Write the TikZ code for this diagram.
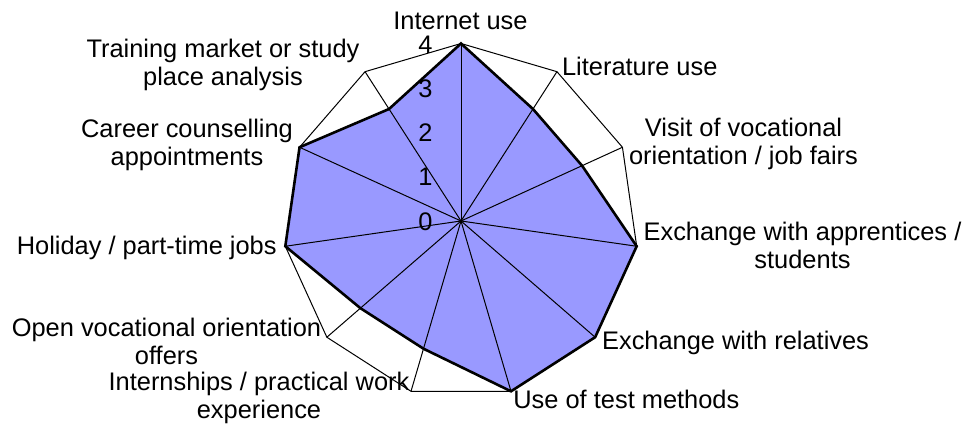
\documentclass[tikz,border=0pt]{standalone}
\usepackage{fontspec}
\setmainfont{Liberation Sans}
\definecolor{radarblue}{RGB}{153,153,255}
\tikzstyle{lbl} = [align=center, inner sep=0pt, font=\fontsize{12.75}{14.2}\selectfont]
\tikzstyle{scalelbl} = [anchor=east, inner sep=0pt, font=\fontsize{12.75}{14.2}\selectfont]
\tikzstyle{gridline} = [draw=black, line width=0.5bp]
\tikzstyle{series} = [draw=black, line width=1.3bp, line join=miter, fill=radarblue]

\begin{document}
\begin{tikzpicture}[x=0.5bp, y=-0.5bp]
\useasboundingbox (0,0) rectangle (971,430);

%Points
\begin{scope}[shift={(461,221)}]
\coordinate (c) at (0,0);
\foreach \v [count=\i from 0] in {4,3,3,4,4,4,3,3,4,4,3} {
  \coordinate (o\i) at ({-90+\i*360/11}:177.5);
  \coordinate (d\i) at ({-90+\i*360/11}:{177.5*\v/4});
}
\end{scope}

%Series
\fill [radarblue] (d0) \foreach \i in {1,...,10} {-- (d\i)} -- cycle;
%Grid
\foreach \i in {0,...,10} \draw [gridline] (c) -- (o\i);
\draw [gridline] (o0) \foreach \i in {1,...,10} {-- (o\i)} -- cycle;
\draw [series, fill=none] (d0) \foreach \i in {1,...,10} {-- (d\i)} -- cycle;

%Scale
\foreach \v in {0,...,4} \node (s\v) [scalelbl] at (433,{221.5-44.3*\v}) {\v};

%Labels
\node (internet) [lbl] at (460.5,20.6) {Internet use};
\node (literature) [lbl, anchor=west] at (561.7,66) {Literature use};
\node (visit) [lbl] at (743.5,144) {Visit of vocational\\orientation / job fairs};
\node (apprentices) [lbl] at (802.5,245.5) {Exchange with apprentices /\\students};
\node (relatives) [lbl, anchor=west] at (601.7,342.5) {Exchange with relatives};
\node (test) [lbl, anchor=west] at (513,399) {Use of test methods};
\node (internships) [lbl] at (259,398) {Internships / practical work\\experience};
\node (open) [lbl] at (166.5,341.5) {Open vocational orientation\\offers};
\node (holiday) [lbl, anchor=east] at (277,247.5) {Holiday / part-time jobs};
\node (career) [lbl] at (187,145) {Career counselling\\appointments};
\node (training) [lbl] at (223,65) {Training market or study\\place analysis};

\end{tikzpicture}
\end{document}
